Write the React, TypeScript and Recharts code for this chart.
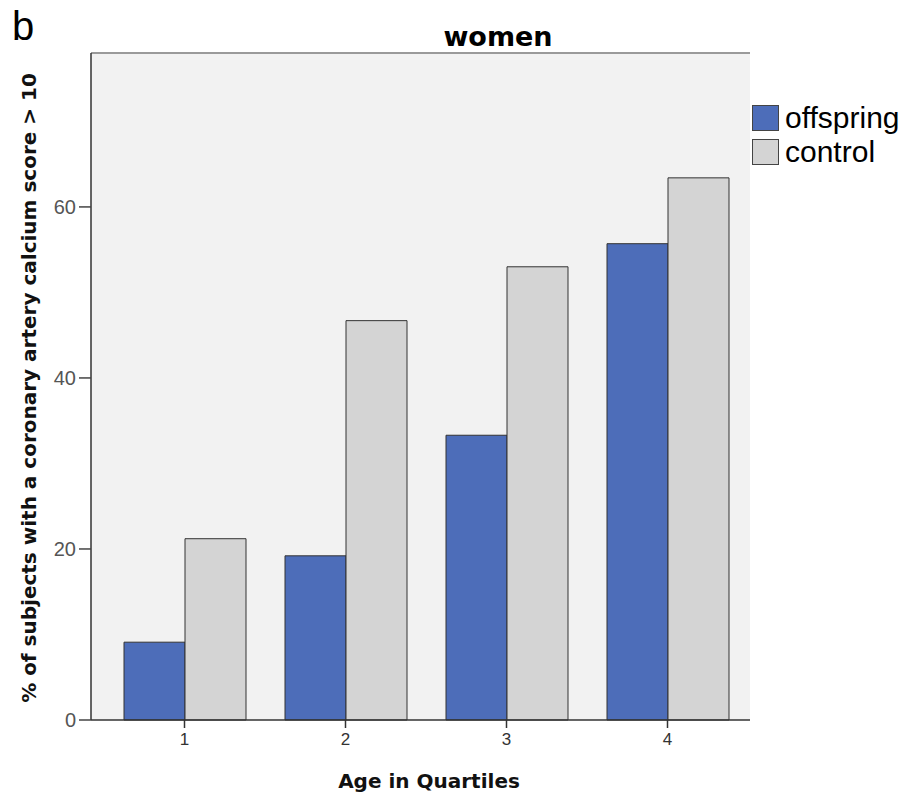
import React from "react";
import { BarChart, Bar, XAxis, YAxis, CartesianGrid } from "recharts";

const categories = ["1", "2", "3", "4"];
const offspring = [9.1, 19.2, 33.3, 55.7];
const control = [21.2, 46.7, 53.0, 63.4];
const yTicks = [0, 20, 40, 60];
const seriesNames = ["offspring", "control"];
const seriesColors = ["#4d6db9", "#d4d4d4"];

const data = categories.map((c, i) => ({ q: c, offspring: offspring[i], control: control[i] }));

const W = 911;
const H = 796;

export default function App() {
  return (
    <div style={{ position: "relative", width: W, height: H, background: "#fff" }}>
      <style>{`body{margin:0}`}</style>
      <BarChart
        width={W}
        height={H}
        data={data}
        margin={{ top: 52, right: 161, bottom: 36, left: 31 }}
        barCategoryGap={20}
        barGap={0}
      >
        <CartesianGrid fill="#f2f2f2" strokeOpacity={0} />
        <XAxis
          dataKey="q"
          height={40}
          padding={{ left: 13, right: 2 }}
          tickSize={8}
          tickMargin={5}
          tick={{ fill: "#333", fontSize: 17, fontFamily: "Liberation Sans, Arial, sans-serif" }}
          axisLine={{ stroke: "#333", strokeWidth: 1.5 }}
          tickLine={{ stroke: "#333", strokeWidth: 1.5 }}
        />
        <XAxis
          xAxisId="top"
          dataKey="q"
          orientation="top"
          height={1}
          tick={false}
          tickLine={false}
          axisLine={{ stroke: "#9a9a9a", strokeWidth: 2 }}
        />
        <YAxis
          width={60}
          domain={[0, 78]}
          ticks={yTicks}
          tickSize={12}
          tickMargin={3}
          tick={{ fill: "#555", fontSize: 20, fontFamily: "Liberation Sans, Arial, sans-serif" }}
          axisLine={{ stroke: "#333", strokeWidth: 1.5 }}
          tickLine={{ stroke: "#444", strokeWidth: 1.5 }}
        />
        <YAxis
          yAxisId="right"
          orientation="right"
          width={0}
          domain={[0, 78]}
          tick={false}
          tickLine={false}
          axisLine={{ stroke: "#9a9a9a", strokeWidth: 2 }}
        />
        <Bar dataKey="offspring" name={seriesNames[0]} fill={seriesColors[0]} stroke="#333" strokeWidth={1} isAnimationActive={false} />
        <Bar dataKey="control" name={seriesNames[1]} fill={seriesColors[1]} stroke="#333" strokeWidth={1} isAnimationActive={false} />
      </BarChart>
      <svg
        width={W}
        height={H}
        style={{ position: "absolute", left: 0, top: 0, pointerEvents: "none" }}
      >
        <text x={12} y={40} fontSize={40} fontFamily="Liberation Sans, Arial, sans-serif" fill="#000">
          b
        </text>
        <text x={498} y={46} textAnchor="middle" fontSize={27} fontWeight="bold" fontFamily="DejaVu Sans, Verdana, sans-serif" fill="#000">
          women
        </text>
        <text
          x={0}
          y={0}
          transform="translate(36,388) rotate(-90)"
          textAnchor="middle"
          fontSize={20}
          fontWeight="bold"
          fontFamily="DejaVu Sans, Verdana, sans-serif"
          fill="#111"
        >
          % of subjects with a coronary artery calcium score &gt; 10
        </text>
        <text x={429} y={788} textAnchor="middle" fontSize={20} fontWeight="bold" fontFamily="DejaVu Sans, Verdana, sans-serif" fill="#111">
          Age in Quartiles
        </text>
      </svg>
      <div style={{ position: "absolute", left: 752, top: 101, fontFamily: "Liberation Sans, Arial, sans-serif", fontSize: 30, color: "#000" }}>
        {seriesNames.map((n, i) => (
          <div key={n} style={{ display: "flex", alignItems: "center", height: 34, lineHeight: "34px" }}>
            <div style={{ width: 25, height: 24, background: seriesColors[i], border: "1.5px solid #444", marginRight: 6 }} />
            <span>{n}</span>
          </div>
        ))}
      </div>
    </div>
  );
}
